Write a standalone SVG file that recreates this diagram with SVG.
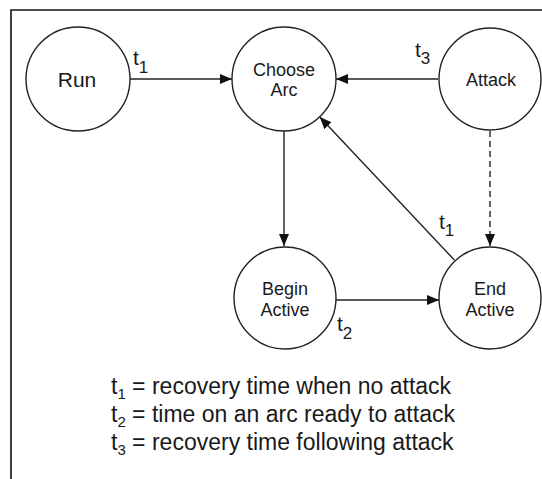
<svg xmlns="http://www.w3.org/2000/svg" width="542" height="479" viewBox="0 0 542 479">
<style>
text{font-family:"Liberation Sans",Arial,Helvetica,sans-serif;fill:#1a1a1a}
.node circle{fill:#fff;stroke:#222;stroke-width:1.4}
.node text{font-size:18px;text-anchor:middle}
.edge{stroke:#222;stroke-width:1.4;fill:none}
.dash{stroke-dasharray:6 4}
.lbl{font-size:21px}
.sub{font-size:17px}
.leg{font-size:23px}
.lsub{font-size:15px}
</style>
<defs>
<marker id="ah" markerWidth="12" markerHeight="10" refX="12" refY="5" orient="auto" markerUnits="userSpaceOnUse">
<path d="M0,0 L12,5 L0,10 z" fill="#111"/>
</marker>
</defs>
<path d="M11,479 V10 H542" fill="none" stroke="#111" stroke-width="1.6"/>
<g id="connectors">
<line class="edge" x1="130" y1="79" x2="232" y2="79" marker-end="url(#ah)"/>
<line class="edge" x1="438" y1="79" x2="336" y2="79" marker-end="url(#ah)"/>
<line class="edge" x1="284" y1="131" x2="284" y2="246" marker-end="url(#ah)"/>
<line class="edge dash" x1="490" y1="131" x2="490" y2="246" marker-end="url(#ah)"/>
<line class="edge" x1="454.4" y1="260.1" x2="319.8" y2="117" marker-end="url(#ah)"/>
<line class="edge" x1="336" y1="300" x2="439" y2="300" marker-end="url(#ah)"/>
<text class="lbl" x="133" y="65">t<tspan class="sub" dy="8">1</tspan></text>
<text class="lbl" x="415" y="57">t<tspan class="sub" dy="7">3</tspan></text>
<text class="lbl" x="439" y="229">t<tspan class="sub" dy="7">1</tspan></text>
<text class="lbl" x="337" y="331">t<tspan class="sub" dy="8">2</tspan></text>
</g>
<g id="run" class="node"><circle cx="78" cy="79" r="52"/><text x="77" y="87" style="font-size:21px">Run</text></g>
<g id="choose" class="node"><circle cx="284" cy="79" r="52"/><text x="284" y="75.5">Choose</text><text x="284" y="96">Arc</text></g>
<g id="attack" class="node"><circle cx="490" cy="79" r="51"/><text x="491" y="86">Attack</text></g>
<g id="begin" class="node"><circle cx="285" cy="298" r="51"/><text x="285" y="295">Begin</text><text x="285" y="315.5">Active</text></g>
<g id="end" class="node"><circle cx="490" cy="298" r="51"/><text x="490" y="295">End</text><text x="490" y="316">Active</text></g>
<g id="legend">
<text class="leg" x="111" y="394">t<tspan class="lsub" dy="5">1</tspan><tspan dy="-5"> = recovery time when no attack</tspan></text>
<text class="leg" x="111" y="422">t<tspan class="lsub" dy="5">2</tspan><tspan dy="-5"> = time on an arc ready to attack</tspan></text>
<text class="leg" x="111" y="450">t<tspan class="lsub" dy="5">3</tspan><tspan dy="-5"> = recovery time following attack</tspan></text>
</g>
</svg>
